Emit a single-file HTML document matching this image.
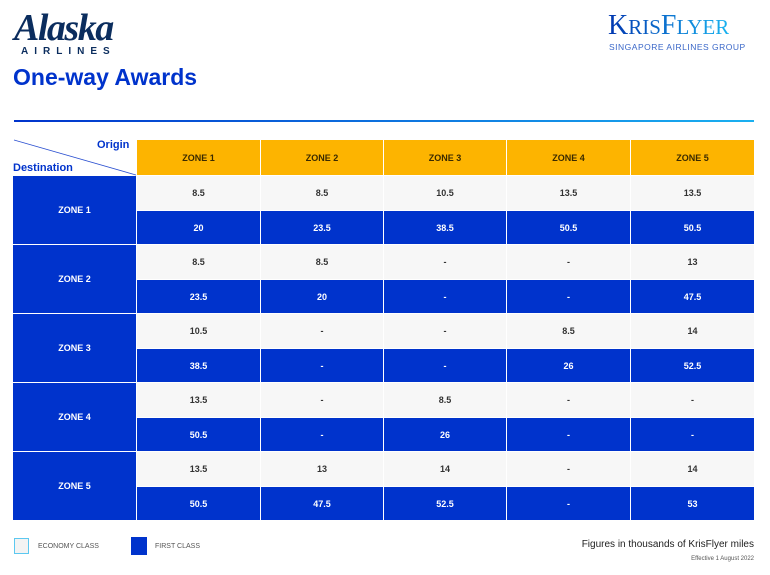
<!DOCTYPE html>
<html><head><meta charset="utf-8"><style>
body{margin:0;width:770px;height:575px;background:#fff;font-family:"Liberation Sans",sans-serif;position:relative;overflow:hidden}
.a{position:absolute}
.c{position:absolute;display:flex;align-items:center;justify-content:center;font-size:9px;font-weight:bold}
.h{background:#fdb400;color:#3a2a00}
.e{background:#f7f7f7;color:#333}
.f{background:#0033cc;color:#fff}
</style></head><body>
<div class="a" style="left:14px;top:6px;font-size:38px;font-style:italic;font-weight:bold;color:#0b2d5e;letter-spacing:-1.5px;font-family:'Liberation Serif',serif">Alaska</div>
<div class="a" style="left:21px;top:46px;font-size:10px;font-weight:bold;color:#0b2d5e;letter-spacing:6px">AIRLINES</div>
<div class="a" style="left:13px;top:64px;font-size:23px;font-weight:bold;color:#0033cc">One-way Awards</div>
<div class="a" style="left:608px;top:10px;font-size:28px;font-family:'Liberation Serif',serif;background:linear-gradient(90deg,#0036b0,#19b3f0);-webkit-background-clip:text;color:transparent">K<span style="font-size:21px">RIS</span>F<span style="font-size:21px">LYER</span></div>
<div class="a" style="left:609px;top:42px;font-size:8.5px;color:#3a67c8;letter-spacing:0.5px">SINGAPORE AIRLINES GROUP</div>
<div class="a" style="left:14px;top:120px;width:740px;height:2px;background:linear-gradient(90deg,#0033cc,#1ab0f0)"></div>
<svg class="a" style="left:0;top:0" width="770" height="575"><line x1="14" y1="140" x2="136" y2="175" stroke="#2a4fd0" stroke-width="0.8"/></svg>
<div class="a" style="left:97px;top:139px;font-size:11px;font-weight:bold;color:#0033cc">Origin</div>
<div class="a" style="left:13px;top:162px;font-size:11px;font-weight:bold;color:#0033cc">Destination</div>
<div id="g"></div>
<div class="a" style="left:14px;top:538px;width:15px;height:16px;background:#f3f3f3;border:1px solid #5cc8f0;box-sizing:border-box"></div>
<div class="a" style="left:38px;top:543px;font-size:7px;color:#555">ECONOMY CLASS</div>
<div class="a" style="left:131px;top:537px;width:16px;height:18px;background:#0033cc"></div>
<div class="a" style="left:155px;top:543px;font-size:7px;color:#555">FIRST CLASS</div>
<div class="a" style="right:16px;top:539px;font-size:10px;color:#222">Figures in thousands of KrisFlyer miles</div>
<div class="a" style="right:16px;top:556px;font-size:6px;color:#555">Effective 1 August 2022</div>
<script>
var cx=[137,261,384,507,631,755],rows=[176,245,314,383,452,521];
var eco=[["8.5","8.5","10.5","13.5","13.5"],["8.5","8.5","-","-","13"],["10.5","-","-","8.5","14"],["13.5","-","8.5","-","-"],["13.5","13","14","-","14"]];
var fir=[["20","23.5","38.5","50.5","50.5"],["23.5","20","-","-","47.5"],["38.5","-","-","26","52.5"],["50.5","-","26","-","-"],["50.5","47.5","52.5","-","53"]];
var h="";
function c(x,y,w,ht,cl,t){h+='<div class="c '+cl+'" style="left:'+x+'px;top:'+y+'px;width:'+w+'px;height:'+ht+'px">'+t+'</div>';}
for(var j=0;j<5;j++)c(cx[j],140,cx[j+1]-cx[j]-1,35,"h","ZONE "+(j+1));
for(var i=0;i<5;i++){var y0=rows[i],y1=rows[i+1],m=y0+35;
c(13,y0,123,y1-y0-1,"f","ZONE "+(i+1));
for(var j=0;j<5;j++){c(cx[j],y0,cx[j+1]-cx[j]-1,34,"e",eco[i][j]);c(cx[j],m,cx[j+1]-cx[j]-1,y1-m-1,"f",fir[i][j]);}}
document.getElementById("g").innerHTML=h;
</script>
</body></html>
